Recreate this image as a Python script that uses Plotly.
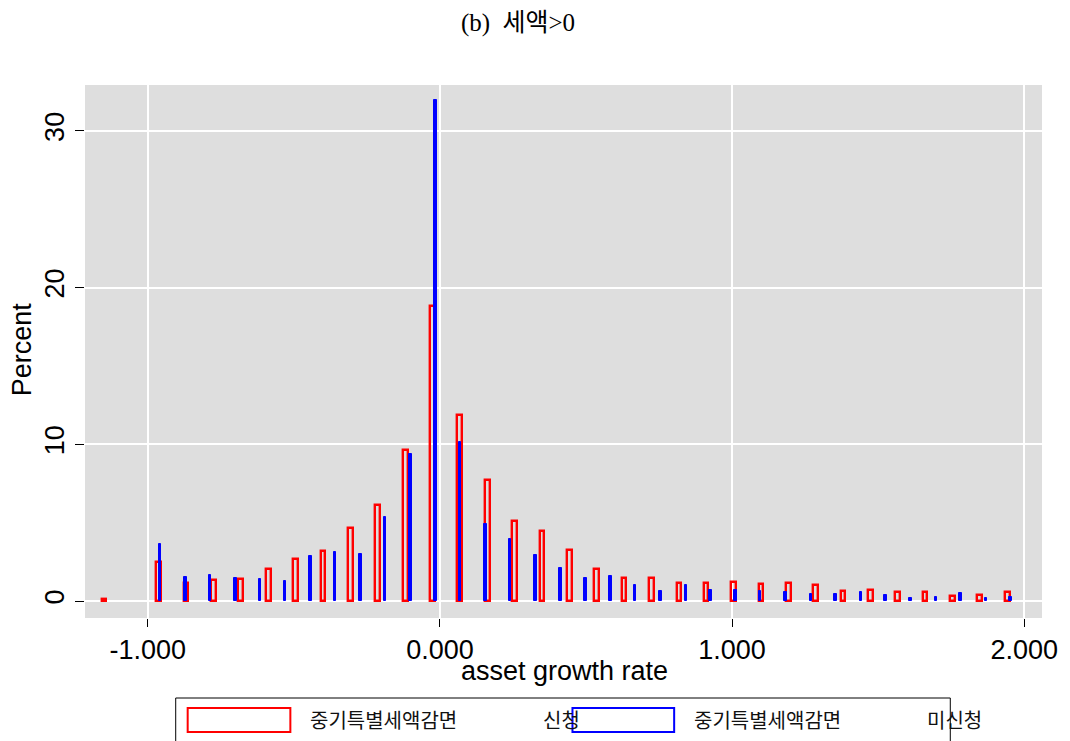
import plotly.graph_objects as go

# ---- data ----
red_x = [-1.150, -0.963, -0.869, -0.775, -0.682, -0.588, -0.494, -0.400, -0.307, -0.213,
         -0.119, -0.026, 0.068, 0.162, 0.255, 0.349, 0.443, 0.536, 0.630, 0.724,
         0.818, 0.911, 1.005, 1.099, 1.193, 1.286, 1.380, 1.474, 1.567, 1.661,
         1.755, 1.848, 1.942]
red_y = [0.10, 2.47, 1.17, 1.36, 1.40, 2.02, 2.70, 3.19, 4.66, 6.13,
         9.62, 18.8, 11.88, 7.71, 5.08, 4.47, 3.24, 2.06, 1.47, 1.47,
         1.15, 1.15, 1.19, 1.09, 1.13, 1.04, 0.62, 0.68, 0.60, 0.57,
         0.32, 0.40, 0.57]

blue_x = [-0.957, -0.871, -0.786, -0.700, -0.615, -0.529, -0.443, -0.358, -0.272, -0.187,
          -0.101, -0.015, 0.070, 0.156, 0.241, 0.327, 0.413, 0.498, 0.584, 0.669,
          0.755, 0.841, 0.926, 1.012, 1.097, 1.183, 1.269, 1.354, 1.440, 1.525,
          1.611, 1.697, 1.782, 1.868, 1.953]
blue_y = [3.64, 1.51, 1.64, 1.47, 1.42, 1.30, 2.87, 3.11, 3.02, 5.35,
          9.35, 32.0, 10.13, 4.90, 3.97, 2.94, 2.13, 1.45, 1.60, 1.02,
          0.64, 1.00, 0.70, 0.70, 0.66, 0.55, 0.47, 0.47, 0.55, 0.40,
          0.21, 0.26, 0.49, 0.21, 0.26]

x_ticks = [-1, 0, 1, 2]
x_ticklabels = ["-1.000", "0.000", "1.000", "2.000"]
y_ticks = [0, 10, 20, 30]

title_text = "(b)  세액>0"
x_title = "asset growth rate"
y_title = "Percent"
legend_label = "중기특별세액감면"
legend_suffix_a = "신청"
legend_suffix_b = "미신청"

W, H = 1070, 741
L, R, T, B = 85, 25, 85, 123
PW, PH = W - L - R, H - T - B


def px(x):
    return (x - L) / PW


def py(y):
    return (H - B - y) / PH


fig = go.Figure()
fig.add_trace(go.Bar(
    x=red_x, y=red_y, width=[0.016] * len(red_x),
    marker=dict(color="rgba(0,0,0,0)", line=dict(color="#ff0000", width=2.4)),
    showlegend=False,
))
fig.add_trace(go.Bar(
    x=blue_x, y=blue_y, width=[0.0075] * len(blue_x),
    marker=dict(color="#0000ff", line=dict(color="#0000ff", width=1)),
    showlegend=False,
))

axis_font = dict(family="Liberation Sans, Arial, sans-serif", size=27, color="#000000")

fig.update_layout(
    width=W, height=H,
    margin=dict(l=L, r=R, t=T, b=B),
    paper_bgcolor="#ffffff",
    plot_bgcolor="#dedede",
    barmode="overlay",
    bargap=0,
    title=dict(text=title_text, x=518 / W, xanchor="center", y=1 - 22 / H, yanchor="middle",
               font=dict(family="Liberation Serif, Noto Sans CJK KR, serif", size=25, color="#000000")),
    xaxis=dict(
        range=[-1.215, 2.061], tickvals=x_ticks, ticktext=x_ticklabels,
        showgrid=True, gridcolor="#ffffff", gridwidth=2, zeroline=False,
        showline=False, ticks="outside", ticklen=8, tickcolor="#000000", tickwidth=1,
        tickfont=axis_font,
    ),
    yaxis=dict(
        range=[-1.085, 32.93], tickvals=y_ticks,
        showgrid=True, gridcolor="#ffffff", gridwidth=2, zeroline=False,
        showline=False, ticks="outside", ticklen=9, tickcolor="#000000", tickwidth=1,
        tickangle=-90, tickfont=axis_font,
    ),
)

# axis titles placed as in the reference
fig.add_annotation(x=px(566), y=py(671), xref="paper", yref="paper", text=x_title,
                   showarrow=False, xanchor="center", yanchor="middle", font=axis_font)
fig.add_annotation(x=px(22), y=py(349), xref="paper", yref="paper", text=y_title,
                   showarrow=False, xanchor="center", yanchor="middle", textangle=-90, font=axis_font)

# ---- manual legend (as in the reference) ----
shapes = [
    dict(type="rect", xref="paper", yref="paper", x0=px(176), x1=px(953), y0=py(790), y1=py(698),
         line=dict(color="#000000", width=1), fillcolor="rgba(0,0,0,0)", layer="above"),
    dict(type="rect", xref="paper", yref="paper", x0=px(188), x1=px(291), y0=py(732), y1=py(708),
         line=dict(color="#ff0000", width=2), fillcolor="rgba(0,0,0,0)", layer="above"),
    dict(type="rect", xref="paper", yref="paper", x0=px(574), x1=px(676), y0=py(732), y1=py(708),
         line=dict(color="#0000ff", width=2), fillcolor="rgba(0,0,0,0)", layer="above"),
]
fig.update_layout(shapes=shapes)

leg_font = dict(family="Noto Sans CJK KR, sans-serif", size=20, color="#111111")
ty = py(719)
for xpos, txt in [(309, legend_label), (542, legend_suffix_a), (694, legend_label), (928, legend_suffix_b)]:
    fig.add_annotation(x=px(xpos), y=ty, xref="paper", yref="paper", text=txt,
                       showarrow=False, xanchor="left", yanchor="middle", font=leg_font)

fig.write_html("out.html")
